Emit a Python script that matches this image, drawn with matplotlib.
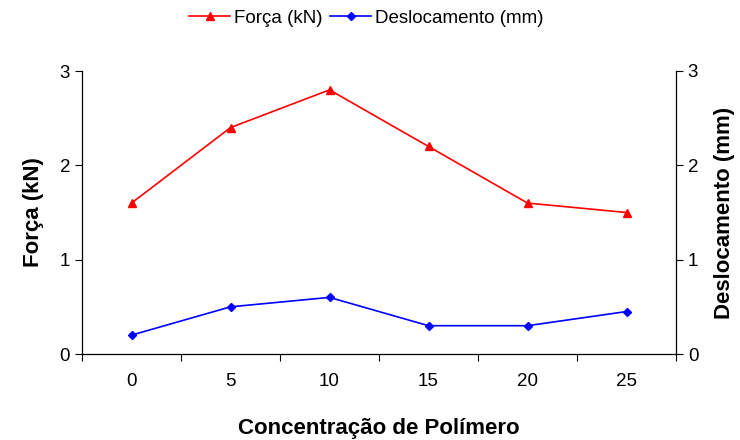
import numpy as np
import matplotlib
matplotlib.use("Agg")
import matplotlib.pyplot as plt

plt.rcParams['font.family'] = ['Liberation Sans', 'DejaVu Sans']

categorias = ['0', '5', '10', '15', '20', '25']
forca = [1.6, 2.4, 2.8, 2.2, 1.6, 1.5]
deslocamento = [0.2, 0.5, 0.6, 0.3, 0.3, 0.45]

fig = plt.figure(figsize=(7.4, 4.4), dpi=100)
ax = fig.add_axes([82 / 740, 86 / 440, 594 / 740, 283 / 440])
ax2 = ax.twinx()

x = np.arange(len(categorias))
l1, = ax.plot(x, forca, color='#ff0000', marker='^', markersize=6, lw=1.2, label='Força (kN)')
l2, = ax2.plot(x, deslocamento, color='#0000ff', marker='D', markersize=4.5, lw=1.2, label='Deslocamento (mm)')

for a in (ax, ax2):
    a.set_xlim(-0.5, len(categorias) - 0.5)
    a.set_ylim(0, 3)
    a.set_yticks([0, 1, 2, 3])
    a.spines['top'].set_visible(False)
    for s in a.spines.values():
        s.set_linewidth(0.9)
ax.spines['right'].set_visible(False)
ax2.spines['left'].set_visible(False)
ax2.spines['bottom'].set_visible(False)

# category ticks sit between the points, labels under the points
ax.set_xticks(np.arange(-0.5, len(categorias), 1.0))
ax.set_xticklabels([])
ax.set_xticks(x, minor=True)
ax.set_xticklabels(categorias, minor=True)
ax.tick_params(axis='x', which='minor', length=0, pad=14, labelsize=13.5)
ax.tick_params(axis='x', which='major', length=5, direction='out')
ax.tick_params(axis='y', labelsize=13.5, length=5)
ax2.tick_params(axis='y', labelsize=13.5, length=5)

ax.set_ylabel('Força (kN)', fontsize=16, fontweight='bold', labelpad=11)
ax2.set_ylabel('Deslocamento (mm)', fontsize=16, fontweight='bold', labelpad=11)
ax.set_xlabel('Concentração de Polímero', fontsize=16, fontweight='bold', labelpad=20)

fig.legend(handles=[l1, l2], loc='center', bbox_to_anchor=(0.495, 1 - 18 / 440),
           ncol=2, frameon=False, fontsize=13.5, handlelength=2.2, handletextpad=0.2,
           columnspacing=0.4, borderpad=0)

fig.savefig('out.png', dpi=100)
